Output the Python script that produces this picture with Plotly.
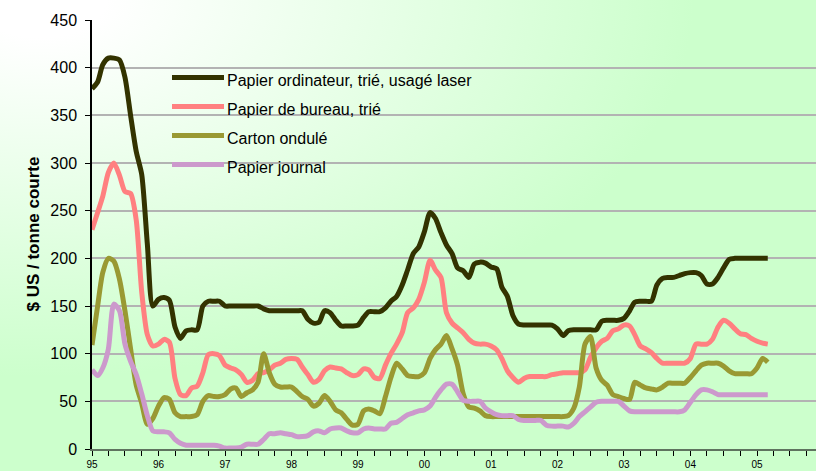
import base64

import pandas as pd
import plotly.graph_objects as go

# monthly prices, $ US / short ton, Jan 1995 .. Mar 2005
months = pd.date_range("1995-01-01", periods=123, freq="MS")

ordinateur = [
    378, 385, 403, 410, 410, 408, 390, 350, 312, 288,
    215, 150, 157, 159, 156, 128, 116, 124, 125, 125,
    150, 155, 155, 155, 150, 150, 150, 150, 150, 150,
    150, 147, 145, 145, 145, 145, 145, 145, 145, 136,
    132, 133, 145, 143, 135, 129, 129, 129, 130, 138,
    144, 144, 144, 148, 155, 160, 172, 188, 205, 212,
    228, 248, 242, 227, 214, 205, 190, 187, 180, 194,
    196, 195, 191, 189, 170, 160, 140, 131, 130, 130,
    130, 130, 130, 130, 126, 119, 124, 125, 125, 125,
    125, 125, 134, 135, 135, 135, 137, 145, 154, 155,
    155, 155, 172, 179, 180, 180, 182, 184, 185, 185,
    182, 173, 173, 180, 190, 199, 200, 200, 200, 200,
    200, 200, 200,
]

bureau = [
    230, 248, 265, 290, 300, 287, 270, 268, 240, 165,
    120, 108, 110, 115, 112, 74, 57, 56, 64, 66,
    80, 99, 100, 98, 88, 85, 83, 78, 70, 72,
    79, 80, 83, 88, 90, 94, 95, 94, 86, 78,
    70, 73, 82, 86, 85, 84, 80, 77, 78, 84,
    83, 75, 74, 88, 100, 110, 122, 143, 148, 157,
    175, 198, 188, 180, 143, 132, 127, 122, 115, 111,
    110, 110, 108, 104, 95, 82, 75, 70, 74, 76,
    76, 76, 76, 78, 79, 80, 80, 80, 80, 83,
    96, 106, 113, 116, 124, 126, 130, 129, 120, 108,
    105, 101, 95, 90, 90, 90, 90, 90, 95, 110,
    110, 110, 115, 128, 135, 132, 126, 121, 120, 116,
    113, 111, 110,
]

carton = [
    109, 150, 185, 200, 197, 178, 145, 105, 67, 48,
    26, 32, 45, 54, 52, 38, 34, 34, 34, 36,
    50, 56, 55, 55, 57, 63, 64, 55, 59, 62,
    70, 100, 80, 68, 65, 65, 65, 60, 55, 52,
    45, 48, 56, 50, 41, 38, 31, 25, 26, 40,
    42, 40, 37, 55, 75, 90, 84, 77, 76, 76,
    80, 95, 104, 110, 119, 105, 88, 58, 44, 43,
    40, 35, 34, 34, 34, 34, 34, 34, 34, 34,
    34, 34, 34, 34, 34, 34, 35, 43, 65, 110,
    118, 85, 72, 67, 57, 55, 53, 52, 70, 67,
    64, 63, 62, 65, 69, 69, 69, 69, 75, 82,
    88, 90, 90, 90, 87, 82, 79, 79, 79, 79,
    85, 95, 91,
]

journal = [
    83, 77, 85, 105, 152, 145, 110, 92, 78, 58,
    35, 19, 18, 18, 17, 10, 6, 4, 4, 4,
    4, 4, 4, 3, 1, 1, 1, 2, 5, 5,
    5, 10, 16, 16, 17, 16, 15, 13, 13, 14,
    18, 19, 17, 21, 22, 22, 19, 17, 17, 21,
    22, 21, 21, 21, 27, 28, 32, 36, 38, 40,
    41, 45, 54, 62, 68, 68, 60, 51, 50, 50,
    50, 43, 39, 36, 35, 35, 35, 31, 30, 30,
    30, 30, 25, 24, 24, 24, 23, 27, 34, 39,
    44, 49, 50, 50, 50, 50, 45, 40, 39, 39,
    39, 39, 39, 39, 39, 39, 39, 41, 49, 57,
    62, 62, 60, 57, 57, 57, 57, 57, 57, 57,
    57, 57, 57,
]

series = [
    ("Papier ordinateur, trié, usagé laser", ordinateur, "#333300"),
    ("Papier de bureau, trié", bureau, "#ff8080"),
    ("Carton ondulé", carton, "#999933"),
    ("Papier journal", journal, "#cc99cc"),
]

W, H = 816, 471
L, R, T, B = 92, 0, 20, 22
PW, PH = W - L - R, H - T - B
FONT = "Liberation Sans, Arial, sans-serif"


def px_x(px):
    return (px - L) / PW


def px_y(py):
    return (H - B - py) / PH


svg = (
    '<svg xmlns="http://www.w3.org/2000/svg" width="816" height="471">'
    '<defs><radialGradient id="g" cx="0.05" cy="0" r="0.8">'
    '<stop offset="0.1" stop-color="#ffffff"/><stop offset="1" stop-color="#ccffcc"/>'
    '</radialGradient></defs><rect width="816" height="471" fill="url(#g)"/></svg>'
)
bg_uri = "data:image/svg+xml;base64," + base64.b64encode(svg.encode()).decode()

fig = go.Figure()
for name, values, color in series:
    fig.add_trace(
        go.Scatter(
            x=months,
            y=values,
            mode="lines",
            name=name,
            line={"color": color, "width": 5, "shape": "spline", "smoothing": 0.7},
            showlegend=False,
        )
    )

# hand-drawn legend, like the original
shapes = []
annotations = []
for i, (name, values, color) in enumerate(series):
    ly = 77.5 + i * 29
    shapes.append(dict(
        type="line", xref="paper", yref="paper",
        x0=px_x(172), x1=px_x(224), y0=px_y(ly), y1=px_y(ly),
        line={"color": color, "width": 5},
    ))
    annotations.append(dict(
        text=name, xref="paper", yref="paper", x=px_x(225), y=px_y(ly + 3),
        xanchor="left", yanchor="middle", showarrow=False,
        font={"family": FONT, "size": 16, "color": "#000000"},
    ))

annotations.append(dict(
    text="<b>$ US / tonne courte</b>", xref="paper", yref="paper",
    x=px_x(33), y=0.5, xanchor="center", yanchor="middle", textangle=-90,
    showarrow=False, font={"family": FONT, "size": 17, "color": "#000000"},
))

fig.update_layout(
    width=W,
    height=H,
    margin={"l": L, "r": R, "t": T, "b": B},
    paper_bgcolor="#ffffff",
    plot_bgcolor="rgba(0,0,0,0)",
    font={"family": FONT, "color": "#000000"},
    showlegend=False,
    shapes=shapes,
    annotations=annotations,
    images=[dict(
        source=bg_uri, xref="paper", yref="paper",
        x=px_x(0), y=px_y(0), sizex=W / PW, sizey=H / PH,
        xanchor="left", yanchor="top", sizing="stretch", layer="below",
    )],
)

fig.update_xaxes(
    range=["1995-01-01", "2005-11-21"],
    tick0="1995-01-01",
    dtick="M12",
    tickformat="%y",
    ticks="outside",
    ticklen=5,
    tickcolor="#000000",
    tickfont={"family": "Liberation Sans Narrow, Arial Narrow, Liberation Sans, sans-serif", "size": 10},
    showgrid=False,
    zeroline=False,
    showline=True,
    linecolor="#5f735f",
    linewidth=2,
    minor={"dtick": "M3", "ticks": "outside", "ticklen": 5, "tickcolor": "#000000", "showgrid": False},
)
fig.update_yaxes(
    range=[0, 450],
    dtick=50,
    ticks="outside",
    ticklen=5,
    tickcolor="#000000",
    ticklabelstandoff=5,
    tickfont={"family": FONT, "size": 16, "color": "#000000"},
    showgrid=True,
    gridcolor="#b3b3b3",
    gridwidth=1.6,
    zeroline=False,
    showline=True,
    linecolor="#000000",
    linewidth=1.5,
)

# the page's default body margin would shift the chart by 8px
fig.write_html(
    "out.html",
    config={"displayModeBar": False},
    post_script="document.body.style.margin = '0';",
)
